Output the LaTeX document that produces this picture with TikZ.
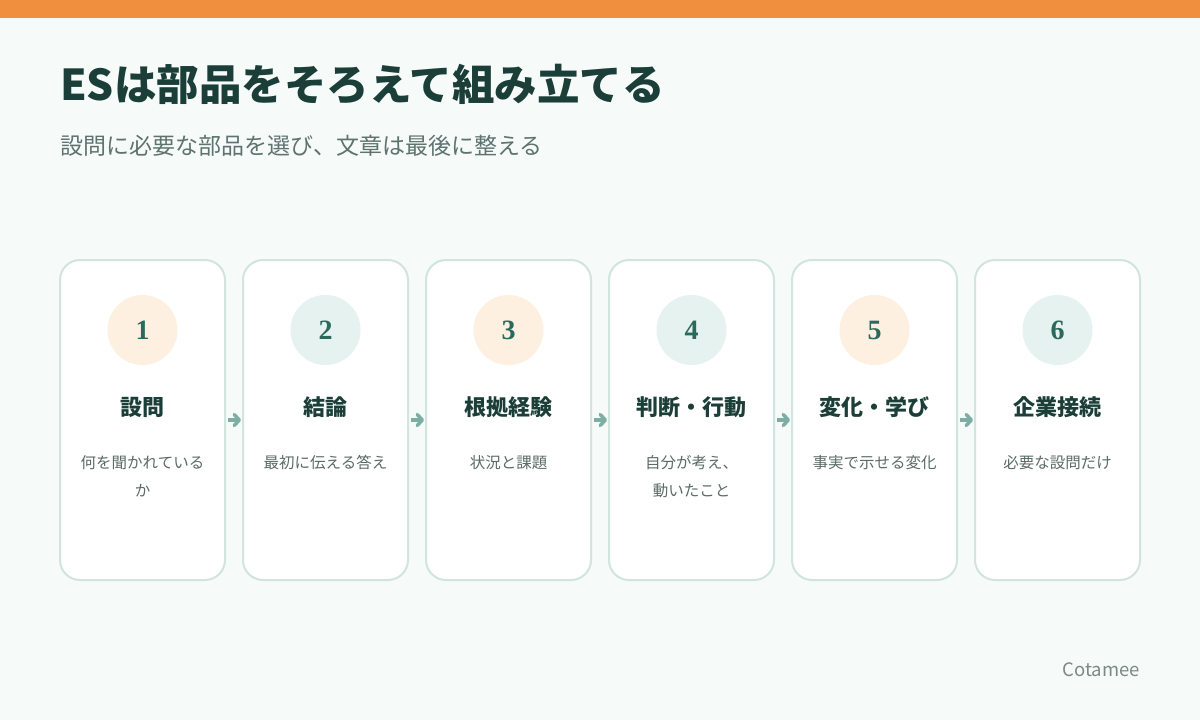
\documentclass[tikz,border=0pt]{standalone}
\usepackage{fontspec}
\setmainfont{Noto Sans CJK JP}
\newfontfamily\numfont{Liberation Serif}
\usepackage{tikz}
\usetikzlibrary{arrows.meta}

\definecolor{topbar}{HTML}{F0903E}
\definecolor{pagebg}{HTML}{F6FAF9}
\definecolor{headink}{HTML}{1B3F38}
\definecolor{subink}{HTML}{5E736E}
\definecolor{cardline}{HTML}{D2E4E0}
\definecolor{warm}{HTML}{FDF0E1}
\definecolor{cool}{HTML}{E6F2EF}
\definecolor{numink}{HTML}{2A6A5C}
\definecolor{descink}{HTML}{5B6B67}
\definecolor{flowink}{HTML}{7DAEA4}
\definecolor{markink}{HTML}{7B8A86}

\begin{document}
\begin{tikzpicture}[x=1pt,y=-1pt,
  card/.style={draw=cardline, line width=2pt, fill=white, rounded corners=20pt,
    minimum width=165pt, minimum height=320pt, inner sep=0pt},
  badge/.style={circle, minimum size=70pt, inner sep=0pt, text=numink,
    font=\numfont\bfseries\fontsize{28}{28}\selectfont},
  cardtitle/.style={anchor=base, inner sep=0pt, text=headink,
    font=\bfseries\fontsize{22}{22}\selectfont},
  carddesc/.style={anchor=north, inner sep=0pt, align=center, text=descink,
    font=\fontsize{15.5}{28}\selectfont},
  flow/.style={draw=flowink, line width=3.5pt, shorten <=2pt, shorten >=1pt,
    -{Straight Barb[length=5pt,width=11pt,round]}}]
  \useasboundingbox (0,0) rectangle (1200,720);
  \fill[pagebg] (0,0) rectangle (1200,720);
  \fill[topbar] (0,0) rectangle (1200,18);

  \node[anchor=base west, inner sep=0pt, text=headink,
    font=\bfseries\fontsize{42.5}{42.5}\selectfont] (heading) at (60,100)
    {ESは部品をそろえて組み立てる};
  \node[anchor=base west, inner sep=0pt, text=subink,
    font=\fontsize{23}{23}\selectfont] (subheading) at (60,154)
    {設問に必要な部品を選び、文章は最後に整える};

  % six parts, left to right
  \foreach \i/\tint/\name/\desc in {
      1/warm/設問/{何を聞かれている\\か},
      2/cool/結論/{最初に伝える答え},
      3/warm/根拠経験/{状況と課題},
      4/cool/判断・行動/{自分が考え、\\動いたこと},
      5/warm/変化・学び/{事実で示せる変化},
      6/cool/企業接続/{必要な設問だけ}}{
    \pgfmathsetmacro\cx{142.5+183*(\i-1)}
    \node[card] (card\i) at (\cx,420) {};
    \node[badge, fill=\tint] (badge\i) at (\cx,330) {\i};
    \node[cardtitle] (title\i) at (\cx,415) {\name};
    \node[carddesc] (desc\i) at (\cx,455.5) {\desc};
  }

  \foreach \i [evaluate=\i as \j using int(\i+1)] in {1,...,5}{
    \draw[flow] (card\i.east) -- (card\j.west);
  }

  \node[anchor=base east, inner sep=0pt, text=markink,
    font=\fontsize{18.5}{18.5}\selectfont] (brand) at (1140,676) {Cotamee};
\end{tikzpicture}
\end{document}
